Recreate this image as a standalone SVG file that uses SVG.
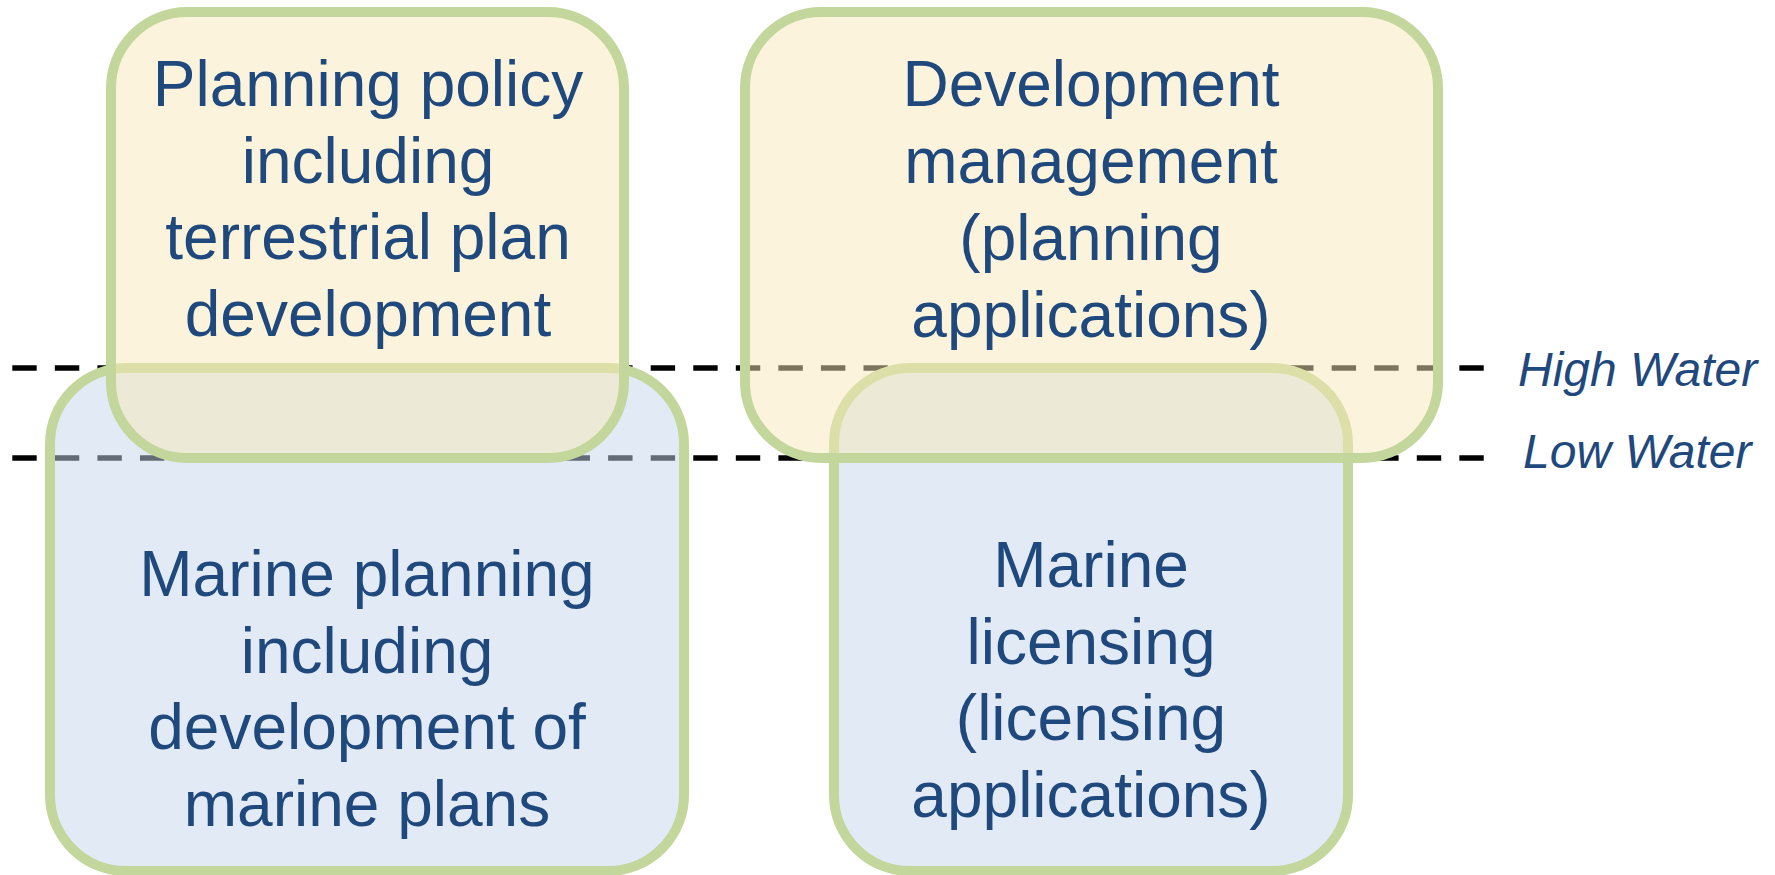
<svg xmlns="http://www.w3.org/2000/svg" width="1775" height="875" viewBox="0 0 1775 875">
  <style>
    .box { stroke: #C3D69B; stroke-width: 10; }
    .land { fill: rgb(248,232,184); fill-opacity: 0.5; }
    .sea { fill: rgb(197,213,237); fill-opacity: 0.5; }
    .t { font-family: "Liberation Sans", Arial, sans-serif; font-size: 64px; fill: #1F497D; text-anchor: middle; }
    .lbl { font-family: "Liberation Sans", Arial, sans-serif; font-size: 48px; font-style: italic; fill: #1F497D; }
    .water { stroke: #000000; stroke-width: 5.5; stroke-dasharray: 24.4 18.16; fill: none; }
  </style>
  <rect width="1775" height="875" fill="#FFFFFF"/>
  <g id="water-lines">
    <line class="water" x1="12.3" y1="368" x2="1484" y2="368"/>
    <line class="water" x1="12.3" y1="458" x2="1484" y2="458"/>
    <text class="lbl" x="1518" y="386">High Water</text>
    <text class="lbl" x="1523" y="468">Low Water</text>
  </g>
  <g id="marine-planning">
    <rect class="box sea" x="50" y="368" width="634" height="503" rx="76" ry="76"/>
    <text class="t" x="367" y="596">Marine planning</text>
    <text class="t" x="367" y="673">including</text>
    <text class="t" x="367" y="749">development of</text>
    <text class="t" x="367" y="826">marine plans</text>
  </g>
  <g id="planning-policy">
    <rect class="box land" x="111" y="12" width="513" height="446" rx="76" ry="76"/>
    <text class="t" x="368" y="106">Planning policy</text>
    <text class="t" x="368" y="183">including</text>
    <text class="t" x="368" y="259">terrestrial plan</text>
    <text class="t" x="368" y="336">development</text>
  </g>
  <g id="marine-licensing">
    <rect class="box sea" x="834" y="368" width="514" height="503" rx="76" ry="76"/>
    <text class="t" x="1091" y="587">Marine</text>
    <text class="t" x="1091" y="664">licensing</text>
    <text class="t" x="1091" y="740">(licensing</text>
    <text class="t" x="1091" y="817">applications)</text>
  </g>
  <g id="development-management">
    <rect class="box land" x="745" y="12" width="693" height="446" rx="76" ry="76"/>
    <text class="t" x="1091" y="106">Development</text>
    <text class="t" x="1091" y="183">management</text>
    <text class="t" x="1091" y="260">(planning</text>
    <text class="t" x="1091" y="337">applications)</text>
  </g>
</svg>
